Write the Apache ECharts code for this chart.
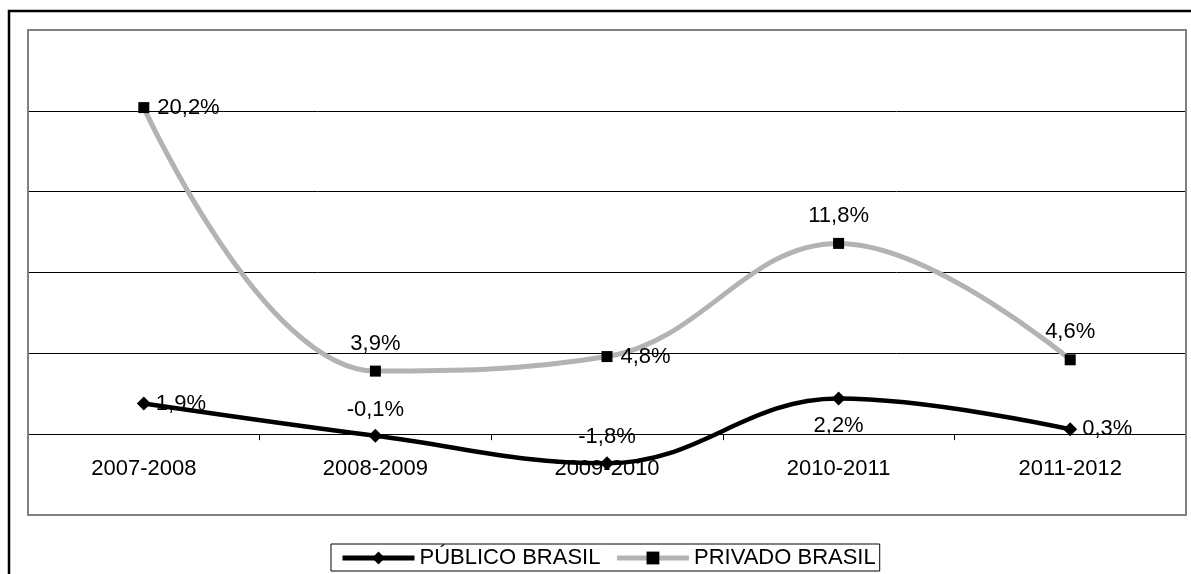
<!DOCTYPE html>
<html>
<head>
<meta charset="utf-8">
<script src="https://cdn.jsdelivr.net/npm/echarts@6/dist/echarts.min.js"></script>
<style>
  html, body { margin: 0; padding: 0; background: #fff; }
  #chart { width: 1191px; height: 574px; }
</style>
</head>
<body>
<div id="chart"></div>
<script>
// Periods and yearly growth (%) for public and private sectors
const categories = ['2007-2008', '2008-2009', '2009-2010', '2010-2011', '2011-2012'];
const publico = [1.9, -0.1, -1.8, 2.2, 0.3];
const privado = [20.2, 3.9, 4.8, 11.8, 4.6];

// Where each value label sits relative to its point
const publicoLabelPos = ['right', 'top', 'top', 'bottom', 'right'];
const privadoLabelPos = ['right', 'top', 'right', 'top', 'top'];

const FONT = 'Arial, "Liberation Sans", sans-serif';
const FS = 22;
const fmt = v => v.toFixed(1).replace('.', ',') + '%';

function withLabels(values, positions, dist) {
  return values.map((v, i) => ({
    value: v,
    label: { position: positions[i], distance: dist[positions[i]] }
  }));
}

const chart = echarts.init(document.getElementById('chart'), null, { renderer: 'canvas' });

chart.setOption({
  animation: false,
  backgroundColor: '#fff',
  textStyle: { fontFamily: FONT },
  grid: { left: 28, right: 5, top: 30, bottom: 59, containLabel: false },
  xAxis: [
    {
      // axis line and ticks on the zero line
      type: 'category',
      data: categories,
      boundaryGap: true,
      axisLine: { onZero: true, lineStyle: { color: '#000', width: 1 } },
      axisTick: { show: true, inside: false, length: 6, alignWithLabel: false, lineStyle: { color: '#000' } },
      axisLabel: { show: false },
      splitLine: { show: false }
    },
    {
      // category names, just under the zero line
      type: 'category',
      data: categories,
      position: 'bottom',
      boundaryGap: true,
      offset: -(515 - 455),
      axisLine: { show: false, onZero: false },
      axisTick: { show: false },
      axisLabel: { color: '#000', fontSize: FS, margin: 3, fontFamily: FONT },
      splitLine: { show: false }
    }
  ],
  yAxis: {
    type: 'value',
    min: -5,
    max: 25,
    interval: 5,
    axisLine: { show: false },
    axisTick: { show: false },
    axisLabel: { show: false },
    splitLine: { show: true, lineStyle: { color: '#000', width: 1 } }
  },
  legend: {
    bottom: 3,
    left: 331,
    data: [
      { name: 'PÚBLICO BRASIL', lineStyle: { width: 5 } },
      { name: 'PRIVADO BRASIL', lineStyle: { width: 5 } }
    ],
    itemWidth: 72,
    itemHeight: 16,
    itemGap: 14,
    padding: [3, 4, 2, 9],
    borderColor: '#000',
    borderWidth: 1,
    textStyle: { color: '#000', fontSize: FS, fontFamily: FONT }
  },
  graphic: [
    {
      type: 'rect',
      z: 100,
      silent: true,
      shape: { x: 9, y: 11, width: 1400, height: 800 },
      style: { fill: 'none', stroke: '#000', lineWidth: 2.5 }
    },
    {
      type: 'rect',
      z: 100,
      silent: true,
      shape: { x: 28, y: 30, width: 1158, height: 485 },
      style: { fill: 'none', stroke: '#808080', lineWidth: 2 }
    }
  ],
  series: [
    {
      name: 'PÚBLICO BRASIL',
      type: 'line',
      xAxisIndex: 0,
      smooth: 0.4,
      z: 3,
      data: withLabels(publico, publicoLabelPos, { right: 5, top: 8, bottom: 9 }),
      symbol: 'diamond',
      symbolSize: 14,
      lineStyle: { color: '#000', width: 4.5 },
      itemStyle: { color: '#000' },
      label: {
        show: true,
        color: '#000',
        fontSize: FS,
        fontFamily: FONT,
        formatter: p => fmt(p.value)
      }
    },
    {
      name: 'PRIVADO BRASIL',
      type: 'line',
      xAxisIndex: 0,
      smooth: 0.4,
      z: 2,
      data: withLabels(privado, privadoLabelPos, { right: 8, top: 11, bottom: 9 }),
      symbol: 'rect',
      symbolSize: 11,
      lineStyle: { color: '#b3b3b3', width: 5 },
      itemStyle: { color: '#000' },
      label: {
        show: true,
        color: '#000',
        fontSize: FS,
        fontFamily: FONT,
        formatter: p => fmt(p.value)
      }
    }
  ]
});
</script>
</body>
</html>
